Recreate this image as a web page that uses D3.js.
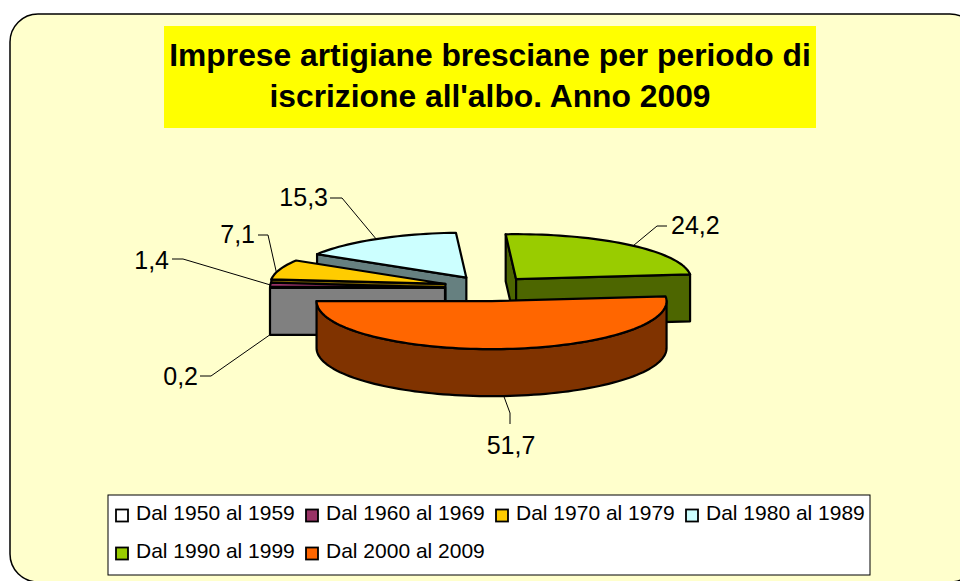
<!DOCTYPE html>
<html>
<head>
<meta charset="utf-8">
<script src="https://cdn.jsdelivr.net/npm/d3@7"></script>
<style>
html, body { margin: 0; padding: 0; background: #fff; }
svg { display: block; }
text { font-family: "Liberation Sans", Arial, sans-serif; fill: #000; }
</style>
</head>
<body>
<svg width="960" height="581"></svg>
<script>
// values
var categories = ["Dal 1950 al 1959", "Dal 1960 al 1969", "Dal 1970 al 1979", "Dal 1980 al 1989", "Dal 1990 al 1999", "Dal 2000 al 2009"];
var values = [0.2, 1.4, 7.1, 15.3, 24.2, 51.7];
var valueLabels = ["0,2", "1,4", "7,1", "15,3", "24,2", "51,7"];
var titleLines = ["Imprese artigiane bresciane per periodo di", "iscrizione all'albo. Anno 2009"];

var topColors = ["#ffffff", "#993366", "#ffcc00", "#ccffff", "#99cc00", "#ff6600"];
var sideColors = ["#808080", "#4d1a33", "#806600", "#668080", "#4d6600", "#803300"];
var explodes = [44, 44, 46, 44, 42, 48];

// leader elbow and label place for each slice
var leaders = [
  { elbow: [211, 376], end: [200, 376], text: [198, 376], anchor: "end", bottom: true, at: 270.2 },
  { elbow: [183, 259], end: [172, 259], text: [169, 260], anchor: "end", bottom: false, at: 273 },
  { elbow: [268, 235], end: [258, 235], text: [255, 234], anchor: "end", bottom: false, at: 285 },
  { elbow: [342, 198], end: [330, 198], text: [328, 197], anchor: "end", bottom: false, at: 329 },
  { elbow: [657, 226], end: [667, 226], text: [671, 225], anchor: "start", bottom: false, at: 42 },
  { elbow: [510, 413], end: [510, 424], text: [511, 445], anchor: "middle", bottom: true, at: 176 }
];

var svg = d3.select("svg");

var cx = 489, cy = 288, rx = 175, ryFront = 48, ryBack = 45, depth = 47;

// frame
svg.append("rect")
  .attr("x", 10).attr("y", 14)
  .attr("width", 968).attr("height", 568)
  .attr("rx", 28).attr("ry", 28)
  .attr("fill", "#ffffcc")
  .attr("stroke", "#000")
  .attr("stroke-width", 1.5);

// title box
svg.append("rect")
  .attr("x", 164).attr("y", 26)
  .attr("width", 652).attr("height", 102)
  .attr("fill", "#ffff00");
svg.selectAll(".title").data(titleLines).enter().append("text")
  .attr("class", "title")
  .attr("x", 490)
  .attr("y", function(d, i) { return 66 + i * 41; })
  .attr("text-anchor", "middle")
  .attr("font-size", 31.8)
  .attr("font-weight", "bold")
  .text(function(d) { return d; });

// pie angles, clockwise from the top
var deg = Math.PI / 180;
var start = 270.1 * deg;
var pie = d3.pie().sort(null).startAngle(start).endAngle(start + 2 * Math.PI);
var arcs = pie(values).map(function(d) {
  var shift = d.startAngle >= 2 * Math.PI ? 2 * Math.PI : 0;
  return { startAngle: d.startAngle - shift, endAngle: d.endAngle - shift };
});

// flat ellipse projection, the far half a little squeezed
function px(c, a) { return c[0] + rx * Math.sin(a); }
function py(c, a) {
  var k = Math.cos(a);
  return c[1] - (k > 0 ? ryBack : ryFront) * k;
}
function apex(d, i) {
  var mid = (d.startAngle + d.endAngle) / 2;
  return [cx + explodes[i] * Math.sin(mid), cy - explodes[i] * (ryFront / rx) * Math.cos(mid)];
}
var line = d3.line();

function rim(c, a0, a1, dy) {
  var n = Math.max(2, Math.ceil((a1 - a0) / (2 * deg)));
  return d3.range(n + 1).map(function(i) {
    var a = a0 + (a1 - a0) * i / n;
    return [px(c, a), py(c, a) + dy];
  });
}
function wall(c, a) {
  return [[c[0], c[1]], [px(c, a), py(c, a)], [px(c, a), py(c, a) + depth], [c[0], c[1] + depth]];
}

// back to front
var order = [4, 3, 2, 1, 0, 5];
var slices = svg.selectAll(".slice").data(order).enter().append("g").attr("class", "slice");

slices.each(function(idx) {
  var d = arcs[idx], c = apex(d, idx), g = d3.select(this);
  function face(points, fill) {
    g.append("path").attr("d", line(points) + "Z")
      .attr("fill", fill).attr("stroke", "#000")
      .attr("stroke-width", 2.2).attr("stroke-linejoin", "round");
  }
  // cut faces turned to the viewer
  if (Math.sin(d.startAngle) < 0) face(wall(c, d.startAngle), sideColors[idx]);
  if (Math.sin(d.endAngle) > 0) face(wall(c, d.endAngle), sideColors[idx]);
  // outer wall, front half only
  var a0 = Math.max(d.startAngle, 90 * deg), a1 = Math.min(d.endAngle, 270 * deg);
  if (a1 > a0) face(rim(c, a0, a1, 0).concat(rim(c, a0, a1, depth).reverse()), sideColors[idx]);
  // top
  face([c].concat(rim(c, d.startAngle, d.endAngle, 0)), topColors[idx]);
});

// leaders and labels
leaders.forEach(function(l, i) {
  var c = apex(arcs[i], i), a = l.at * deg;
  var from = [px(c, a), py(c, a) + (l.bottom ? depth : 0)];
  svg.append("path")
    .attr("d", line([from, l.elbow, l.end]))
    .attr("fill", "none").attr("stroke", "#000").attr("stroke-width", 1);
  svg.append("text")
    .attr("x", l.text[0]).attr("y", l.text[1])
    .attr("dy", "0.36em")
    .attr("text-anchor", l.anchor)
    .attr("font-size", 25)
    .text(valueLabels[i]);
});

// legend
svg.append("rect")
  .attr("x", 108).attr("y", 495)
  .attr("width", 762).attr("height", 80)
  .attr("fill", "#fff").attr("stroke", "#000").attr("stroke-width", 1);

var legendX = d3.scalePoint().domain([0, 1, 2, 3]).range([116, 686]);
var legendY = d3.scalePoint().domain([0, 1]).range([514, 552]);
var legend = svg.selectAll(".legend").data(categories).enter().append("g")
  .attr("class", "legend")
  .attr("transform", function(d, i) {
    return "translate(" + legendX(i % 4) + "," + legendY(Math.floor(i / 4)) + ")";
  });
legend.append("rect")
  .attr("x", 0).attr("y", -4.5)
  .attr("width", 12).attr("height", 12)
  .attr("fill", function(d, i) { return topColors[i]; })
  .attr("stroke", "#000").attr("stroke-width", 1.8);
legend.append("text")
  .attr("x", 20).attr("y", -1.5)
  .attr("dy", "0.36em")
  .attr("font-size", 21)
  .text(function(d) { return d; });
</script>
</body>
</html>
